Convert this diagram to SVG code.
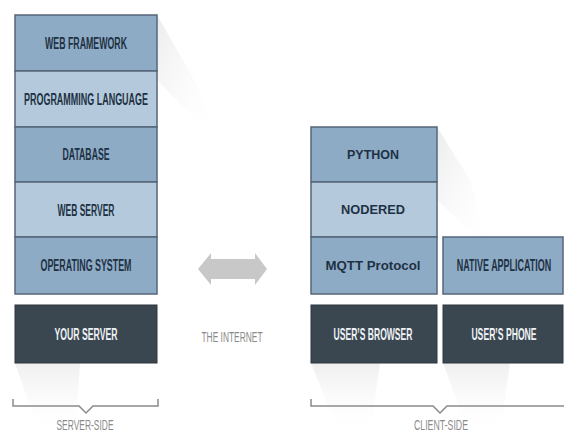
<svg xmlns="http://www.w3.org/2000/svg" width="564" height="435" viewBox="0 0 564 435">
<defs>
<linearGradient id="sh" x1="0" y1="0" x2="1" y2="1">
<stop offset="0" stop-color="#dcdcdc" stop-opacity="0.55"/>
<stop offset="1" stop-color="#ffffff" stop-opacity="0"/>
</linearGradient>
<linearGradient id="sh2" x1="0" y1="0" x2="0" y2="1">
<stop offset="0" stop-color="#e4e4e4" stop-opacity="0.6"/>
<stop offset="1" stop-color="#ffffff" stop-opacity="0"/>
</linearGradient>
<style>
.mid{fill:#8eabc6;stroke:#55667a;stroke-width:1.5}
.light{fill:#b4cadc;stroke:#55667a;stroke-width:1.5}
.dark{fill:#3a4650;stroke:#2c363e;stroke-width:1}
.t{font-family:"Liberation Sans",Arial,sans-serif;font-weight:bold;font-size:16px;fill:#1e3144;text-anchor:middle}
.a{font-family:"Liberation Sans",Arial,sans-serif;font-weight:bold;font-size:13px;fill:#1e3144;text-anchor:middle}
.w{font-family:"Liberation Sans",Arial,sans-serif;font-weight:bold;font-size:16px;fill:#eef2f5;text-anchor:middle}
.g{font-family:"Liberation Sans",Arial,sans-serif;font-size:15px;fill:#8a8a8a;text-anchor:middle}
.br{fill:none;stroke:#8a8a8a;stroke-width:1.5}
</style>
</defs>
<g id="shadows">
<polygon points="157,15 157,80 215,140 200,90" fill="url(#sh)"/>
<polygon points="437,127 437,200 490,250 470,180" fill="url(#sh)"/>
<polygon points="15,363 80,363 75,435 40,435" fill="url(#sh2)"/>
<polygon points="311,363 380,363 370,435 340,435" fill="url(#sh2)"/>
<polygon points="443,363 510,363 500,435 470,435" fill="url(#sh2)"/>
</g>
<g id="web-framework"><rect class="mid" x="15" y="15" width="142" height="56"/><text class="t" x="86" y="49" textLength="82" lengthAdjust="spacingAndGlyphs">WEB FRAMEWORK</text></g>
<g id="programming-language"><rect class="light" x="15" y="71" width="142" height="56"/><text class="t" x="86" y="105" textLength="124" lengthAdjust="spacingAndGlyphs">PROGRAMMING LANGUAGE</text></g>
<g id="database"><rect class="mid" x="15" y="127" width="142" height="55"/><text class="t" x="86" y="160" textLength="47" lengthAdjust="spacingAndGlyphs">DATABASE</text></g>
<g id="web-server"><rect class="light" x="15" y="182" width="142" height="55"/><text class="t" x="86" y="216" textLength="57" lengthAdjust="spacingAndGlyphs">WEB SERVER</text></g>
<g id="operating-system"><rect class="mid" x="15" y="237" width="142" height="57"/><text class="t" x="86" y="271" textLength="91" lengthAdjust="spacingAndGlyphs">OPERATING SYSTEM</text></g>
<g id="your-server"><rect class="dark" x="15" y="305" width="142" height="58"/><text class="w" x="86" y="340" textLength="63" lengthAdjust="spacingAndGlyphs">YOUR SERVER</text></g>
<g id="python"><rect class="mid" x="311" y="127" width="126" height="55"/><text class="a" x="373" y="159" textLength="52" lengthAdjust="spacingAndGlyphs">PYTHON</text></g>
<g id="nodered"><rect class="light" x="311" y="182" width="126" height="55"/><text class="a" x="373" y="214" textLength="64" lengthAdjust="spacingAndGlyphs">NODERED</text></g>
<g id="mqtt"><rect class="mid" x="311" y="237" width="126" height="57"/><text class="a" x="373" y="270" textLength="95" lengthAdjust="spacingAndGlyphs">MQTT Protocol</text></g>
<g id="native-application"><rect class="mid" x="443" y="237" width="120" height="57"/><text class="t" transform="translate(504,271) scale(0.56,1)" x="0" y="0">NATIVE APPLICATION</text></g>
<g id="users-browser"><rect class="dark" x="311" y="305" width="126" height="58"/><text class="w" transform="translate(373,340) scale(0.535,1)" x="0" y="0">USER’S BROWSER</text></g>
<g id="users-phone"><rect class="dark" x="443" y="305" width="120" height="58"/><text class="w" transform="translate(504,340) scale(0.54,1)" x="0" y="0">USER’S PHONE</text></g>
<g id="connectors">
<polygon points="198,269 211,253 211,259 255,259 255,253 267,269 255,285 255,279 211,279 211,285" fill="#c8c8c8"/>
<path class="br" d="M13,399 V406 H79 L86,413 L93,406 H158 V399"/>
<path class="br" d="M311,399 V406 H433 L440,413 L447,406 H564"/>
</g>
<g id="labels">
<text class="g" x="232" y="342" textLength="61" lengthAdjust="spacingAndGlyphs">THE INTERNET</text>
<text class="g" x="85" y="430" textLength="57" lengthAdjust="spacingAndGlyphs">SERVER-SIDE</text>
<text class="g" x="441" y="430" textLength="54" lengthAdjust="spacingAndGlyphs">CLIENT-SIDE</text>
</g>
</svg>
